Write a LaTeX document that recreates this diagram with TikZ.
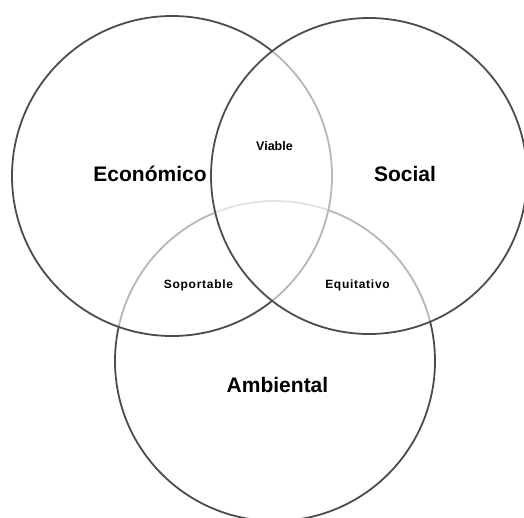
\documentclass[tikz,border=0pt]{standalone}
\usepackage{fontspec}
\setmainfont{Liberation Sans}
\newfontfamily\spaced[LetterSpace=6]{Liberation Sans}
\begin{document}
\begin{tikzpicture}[x=1pt,y=-1pt,
  ring/.style={draw=black!70,line width=1.8pt},
  veil/.style={fill=white,fill opacity=0.6},
  big/.style={font=\fontsize{21}{24}\selectfont\bfseries,inner sep=0pt},
  small/.style={font=\fontsize{12.5}{14}\selectfont\bfseries,inner sep=0pt},
  smallsp/.style={font=\spaced\fontsize{12}{14}\selectfont\bfseries,inner sep=0pt}]
\useasboundingbox (0,0) rectangle (524,517);
\begin{scope}
\clip (0,0) rectangle (524,517);
% Ambiental (bottom layer)
\draw[ring] (275,361) circle[radius=160];
% Economico
\fill[veil] (172,176) circle[radius=160];
\draw[ring] (172,176) circle[radius=160];
% Social
\fill[veil] (369,176) circle[radius=158];
\draw[ring] (369,176) circle[radius=158];
\end{scope}
\node[big] (eco) at (150,174) {Económico};
\node[big] (soc) at (405,174) {Social};
\node[big] (amb) at (277.5,385) {Ambiental};
\node[small] (via) at (274.5,146) {Viable};
\node[smallsp] (sop) at (198.5,285) {Soportable};
\node[smallsp] (equ) at (357.5,285) {Equitativo};
\end{tikzpicture}
\end{document}
